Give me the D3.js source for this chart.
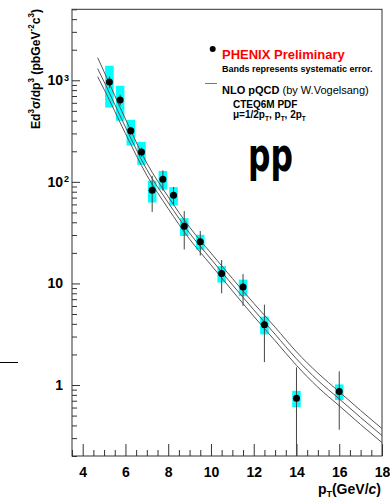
<!DOCTYPE html>
<html>
<head>
<meta charset="utf-8">
<script src="https://d3js.org/d3.v7.min.js"></script>
<style>body{margin:0;background:#fff}</style>
</head>
<body>
<script>
var W = 390, H = 500;

// PHENIX preliminary pp points
var ptVals   = [5.25, 5.75, 6.25, 6.75, 7.25, 7.75, 8.25, 8.75, 9.5, 10.5, 11.5, 12.5, 14, 16];
var yieldVals = [964, 641, 318, 197, 82.6, 106, 73.8, 36.6, 25.8, 12.5, 9.2, 3.93, 0.741, 0.863];
var statErr  = [130, 80, 30, 20, 32, 24, 15, 15, 7, 4.5, 3.2, 2.25, 0.75, 0.5];
var sysErr   = [425, 242, 90, 50, 20, 22, 15, 7.3, 4.3, 2.3, 1.7, 0.78, 0.135, 0.15];

// NLO pQCD curves, mu = pT/2, pT, 2pT
var nloPt    = [4.7, 5, 6, 7, 8, 9, 10, 11, 12, 13, 14, 15, 16, 17, 18];
var nloHalf  = [1671, 1214, 415, 153, 71.4, 35.8, 19.9, 11.2, 6.38, 3.71, 2.12, 1.31, 0.857, 0.561, 0.372];
var nloOne   = [1304, 969, 346, 132, 62.4, 31.3, 17.4, 9.7, 5.5, 3.16, 1.81, 1.11, 0.73, 0.479, 0.318];
var nloTwo   = [1086, 817, 299, 116, 54.5, 27.3, 15.2, 8.47, 4.75, 2.73, 1.56, 0.951, 0.624, 0.408, 0.271];

var xTicks = [4, 6, 8, 10, 12, 14, 16, 18];
var yTicks = [1, 10, 100, 1000];
var yTickBase = ["1", "10", "10", "10"];
var yTickExp  = ["", "", "2", "3"];

var svg = d3.select("body").append("svg")
	.attr("width", W)
	.attr("height", H)
	.style("font-family", "'Liberation Sans', Arial, sans-serif");

var x = d3.scaleLinear().domain([3.5, 18]).range([72, 382]);
var y = d3.scaleLog().domain([0.2, 5000]).range([456, 9.3]);
var axisCol = "#333";

// frame
svg.append("rect")
	.attr("x", x(3.5)).attr("y", y(5000))
	.attr("width", x(18) - x(3.5)).attr("height", y(0.2) - y(5000))
	.style("fill", "none").style("stroke", axisCol).style("stroke-width", 1);

// x axis, ticks pointing inward
var minorX = d3.range(3.5, 18.01, 0.5).filter(function(v){ return v % 2 != 0; });
var gxm = svg.append("g").attr("transform", "translate(0,456)")
	.call(d3.axisBottom(x).tickValues(minorX).tickSize(-6).tickSizeOuter(0).tickFormat(""));
var gx = svg.append("g").attr("transform", "translate(0,456)")
	.call(d3.axisBottom(x).tickValues(xTicks).tickSize(-12).tickSizeOuter(0).tickPadding(11));
gx.selectAll("text").style("font-size", "14px").style("font-weight", "bold").style("fill", "#000")
	.style("font-family", "'Liberation Sans', Arial, sans-serif");
[gx, gxm].forEach(function(g){
	g.select(".domain").remove();
	g.selectAll("line").style("stroke", axisCol);
});

// y axis (log)
var minorY = [];
[0.1, 1, 10, 100, 1000].forEach(function(d){
	for (var k = 2; k <= 9; k++) if (d*k >= 0.2 && d*k <= 5000) minorY.push(d*k);
});
var gym = svg.append("g").attr("transform", "translate(72,0)")
	.call(d3.axisLeft(y).tickValues(minorY).tickSize(-5).tickSizeOuter(0).tickFormat(""));
var gy = svg.append("g").attr("transform", "translate(72,0)")
	.call(d3.axisLeft(y).tickValues(yTicks).tickSize(-8).tickSizeOuter(0).tickFormat(""));
[gy, gym].forEach(function(g){
	g.select(".domain").remove();
	g.selectAll("line").style("stroke", axisCol);
});
yTicks.forEach(function(v, i){
	svg.append("text")
		.attr("x", 63).attr("y", y(v) + 5)
		.attr("text-anchor", "end")
		.style("font-size", "14px").style("font-weight", "bold")
		.text(yTickBase[i]);
	if (yTickExp[i]) {
		svg.append("text")
			.attr("x", 64).attr("y", y(v) + 0.5)
			.style("font-size", "9px").style("font-weight", "bold")
			.text(yTickExp[i]);
	}
});

// systematic bands
var pts = ptVals.map(function(p, i){
	return {pt: p, v: yieldVals[i], st: statErr[i], sy: sysErr[i]};
});
svg.selectAll("rect.band").data(pts).enter().append("rect")
	.attr("class", "band")
	.attr("x", function(d){ return x(d.pt - 0.2); })
	.attr("width", function(d){ return x(d.pt + 0.2) - x(d.pt - 0.2); })
	.attr("y", function(d){ return y(d.v + d.sy); })
	.attr("height", function(d){ return y(d.v - d.sy) - y(d.v + d.sy); })
	.style("fill", "#00ffff");

// NLO curves
var line = d3.line()
	.x(function(d){ return x(d[0]); })
	.y(function(d){ return y(d[1]); })
	.curve(d3.curveMonotoneX);
[nloHalf, nloOne, nloTwo].forEach(function(c){
	svg.append("path")
		.attr("d", line(nloPt.map(function(p, i){ return [p, c[i]]; })))
		.style("fill", "none").style("stroke", "#555").style("stroke-width", 1);
});

// statistical errors
svg.selectAll("line.stat").data(pts).enter().append("line")
	.attr("class", "stat")
	.attr("x1", function(d){ return x(d.pt); })
	.attr("x2", function(d){ return x(d.pt); })
	.attr("y1", function(d){ return y(d.v + d.st); })
	.attr("y2", function(d){ return y(Math.max(d.v - d.st, 0.2)); })
	.style("stroke", "#444").style("stroke-width", 1);

svg.selectAll("circle.pt").data(pts).enter().append("circle")
	.attr("class", "pt")
	.attr("cx", function(d){ return x(d.pt); })
	.attr("cy", function(d){ return y(d.v); })
	.attr("r", 3.5)
	.style("fill", "#000");

// legend
svg.append("circle").attr("cx", 212.7).attr("cy", 49).attr("r", 3).style("fill", "#000");
svg.append("text").attr("x", 222).attr("y", 59)
	.style("font-size", "13px").style("font-weight", "bold").style("fill", "#ff0000")
	.text("PHENIX Preliminary");
svg.append("text").attr("x", 222).attr("y", 72)
	.style("font-size", "9px").style("font-weight", "bold")
	.text("Bands represents systematic error.");
svg.append("line").attr("x1", 205).attr("x2", 217).attr("y1", 83.5).attr("y2", 83.5)
	.style("stroke", "#777").style("stroke-width", 1);
var nloT = svg.append("text").attr("x", 222).attr("y", 93.5)
	.style("font-size", "11px").style("font-weight", "bold");
nloT.append("tspan").text("NLO pQCD ");
nloT.append("tspan").style("font-weight", "normal").text("(by W.Vogelsang)");
svg.append("text").attr("x", 233).attr("y", 107.5)
	.style("font-size", "10px").style("font-weight", "bold")
	.text("CTEQ6M PDF");
var mu = svg.append("text").attr("x", 233).attr("y", 121)
	.style("font-size", "10px").style("font-weight", "bold");
[["\u03bc=1/2p", 0], ["T", 1], [", p", 0], ["T", 1], [", 2p", 0], ["T", 1]].forEach(function(s){
	mu.append("tspan")
		.attr("dy", s[1] ? 3 : (mu.selectAll("tspan").size() ? -3 : 0))
		.style("font-size", s[1] ? "6.5px" : "10px")
		.text(s[0]);
});

svg.append("text").attr("x", 248).attr("y", 171)
	.attr("textLength", 45).attr("lengthAdjust", "spacingAndGlyphs")
	.style("font-family", "'DejaVu Sans', sans-serif")
	.style("font-size", "46px").style("font-weight", "bold")
	.text("pp");

// axis titles
var xl = svg.append("text").attr("x", 381).attr("y", 494)
	.attr("text-anchor", "end")
	.style("font-size", "14px").style("font-weight", "bold");
xl.append("tspan").text("p");
xl.append("tspan").attr("dy", 3).style("font-size", "9px").text("T");
xl.append("tspan").attr("dy", -3).text("(GeV/");
xl.append("tspan").style("font-style", "italic").text("c");
xl.append("tspan").text(")");

var yl = svg.append("text")
	.attr("transform", "translate(40,129) rotate(-90)")
	.attr("textLength", 120).attr("lengthAdjust", "spacingAndGlyphs")
	.style("font-size", "13px").style("font-weight", "bold");
[["Ed", 0], ["3", 1], ["\u03c3/dp", 0], ["3", 1], [" (pbGeV", 0], ["-2", 1], ["c", 0], ["3", 1], [")", 0]].forEach(function(s, i){
	yl.append("tspan")
		.attr("dy", s[1] ? -6 : (i > 0 ? 6 : 0))
		.style("font-size", s[1] ? "8.5px" : "13px")
		.text(s[0]);
});

// stray line at left edge
svg.append("line").attr("x1", 0).attr("x2", 18).attr("y1", 362.5).attr("y2", 362.5)
	.style("stroke", "#000").style("stroke-width", 1);
</script>
</body>
</html>
